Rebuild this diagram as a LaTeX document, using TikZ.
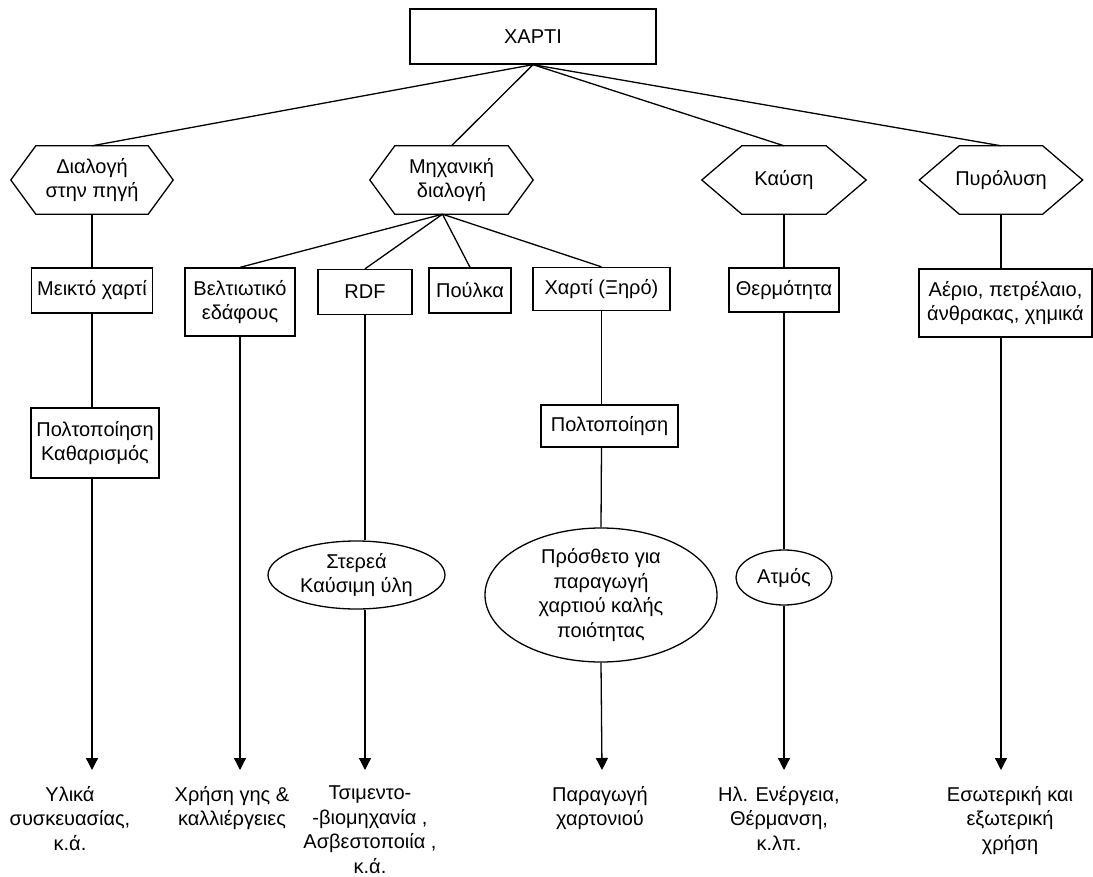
\documentclass[tikz,border=0pt]{standalone}
\usepackage{fontspec}
\setmainfont{Liberation Sans}
\usetikzlibrary{arrows.meta,shapes.geometric}
\begin{document}
\begin{tikzpicture}[x=1pt,y=1pt,
  txt/.style={font=\fontsize{20}{24.5}\selectfont, align=center, inner sep=0pt},
  box/.style={txt, draw, line width=1.3pt},
  hexbox/.style={txt},
  oval/.style={txt, draw, ellipse, line width=1.3pt},
  ln/.style={line width=1.3pt},
  arr/.style={line width=1.3pt, -{Triangle[width=12pt,length=12pt]}}
]
\fill[white] (0,0) rectangle (1093,-877);
\useasboundingbox (0,0) rectangle (1093,-877);

% top
\node[box, minimum width=246, minimum height=55] (top) at (533,-36.5) {ΧΑΡΤΙ};

% hexagons
\node[hexbox, minimum width=162, minimum height=68] (h1) at (92,-180) {Διαλογή\\στην πηγή};
\node[hexbox, minimum width=163, minimum height=68] (h2) at (451.5,-180) {Μηχανική\\διαλογή};
\node[hexbox, minimum width=164, minimum height=68] (h3) at (784,-180) {Καύση};
\node[hexbox, minimum width=163, minimum height=68] (h4) at (1001,-180) {Πυρόλυση};
\foreach \h/\i in {h1/25,h2/25,h3/40,h4/40}{
  \draw[ln] (\h.west) -- ([xshift=\i]\h.north west) -- ([xshift=-\i]\h.north east) -- (\h.east)
    -- ([xshift=-\i]\h.south east) -- ([xshift=\i]\h.south west) -- cycle;
}

% level 2
\node[box, minimum width=121, minimum height=45] (b1) at (92,-290.5) {Μεικτό χαρτί};
\node[box, minimum width=110, minimum height=68] (b2) at (240,-302) {Βελτιωτικό\\εδάφους};
\node[box, minimum width=94, minimum height=45] (b3) at (365,-292) {RDF};
\node[box, minimum width=82, minimum height=45] (b4) at (470,-290.5) {Πούλκα};
\node[box, minimum width=137, minimum height=43] (b5) at (601.5,-289) {Χαρτί (Ξηρό)};
\node[box, minimum width=110, minimum height=44] (b6) at (784,-290) {Θερμότητα};
\node[box, minimum width=173, minimum height=68] (b7) at (1005.5,-303) {Αέριο, πετρέλαιο,\\άνθρακας, χημικά};

% level 3
\node[box, minimum width=128, minimum height=70] (c1) at (95,-443) {Πολτοποίηση\\Καθαρισμός};
\node[box, minimum width=137, minimum height=42] (c2) at (609.5,-426) {Πολτοποίηση};

% ellipses
\node[oval, minimum width=177, minimum height=68] (e1) at (356.5,-575) {Στερεά\\Καύσιμη ύλη};
\node[oval, minimum width=232, minimum height=134] (e2) at (601,-595) {Πρόσθετο για\\παραγωγή\\χαρτιού καλής\\ποιότητας};
\node[oval, minimum width=96, minimum height=55] (e3) at (784,-577.5) {Ατμός};

% arrow ends
\coordinate (a1) at (92,-770);
\coordinate (a2) at (240,-770);
\coordinate (a3) at (365,-770);
\coordinate (a4) at (602,-770);
\coordinate (a5) at (784,-770);
\coordinate (a6) at (1001,-770);

% bottom texts
\node[txt, anchor=north] (t1) at (70,-786) {Υλικά\\συσκευασίας,\\κ.ά.};
\node[txt, anchor=north] (t2) at (232,-786) {Χρήση γης \&\\καλλιέργειες};
\node[txt, anchor=north] (t3) at (370,-786) {Τσιμεντο-\\-βιομηχανία ,\\Ασβεστοποιία ,\\κ.ά.};
\node[txt, anchor=north] (t4) at (600,-786) {Παραγωγή\\χαρτονιού};
\node[txt, anchor=north] (t5) at (779,-786) {Ηλ. Ενέργεια,\\Θέρμανση,\\κ.λπ.};
\node[txt, anchor=north] (t6) at (1010,-786) {Εσωτερική και\\εξωτερική\\χρήση};

% connectors from top
\foreach \h in {h1,h2,h3,h4} \draw[ln] (top.south) -- (\h.north);

% fan from h2
\foreach \b in {b2,b3,b4,b5} \draw[ln] ([xshift=-9]h2.south) -- (\b.north);

% column 1
\draw[ln] (h1.south) -- (b1.north);
\draw[ln] (b1.south) -- (b1.south |- c1.north);
\draw[arr] (b1.south |- c1.south) -- (a1);
% column 2
\draw[arr] (b2.south) -- (a2);
% column 3
\draw[ln] (b3.south) -- (b3.south |- e1.north);
\draw[arr] (b3.south |- e1.south) -- (a3);
% column 4
\draw[ln] (b5.south) -- (b5.south |- c2.north);
\draw[ln] (b5.south |- c2.south) -- (e2.north);
\draw[arr] (e2.south) -- (a4);
% column 5
\draw[ln] (h3.south) -- (b6.north);
\draw[ln] (b6.south) -- (e3.north);
\draw[arr] (e3.south) -- (a5);
% column 6
\draw[ln] (h4.south) -- (h4.south |- b7.north);
\draw[arr] (h4.south |- b7.south) -- (a6);
\end{tikzpicture}
\end{document}
